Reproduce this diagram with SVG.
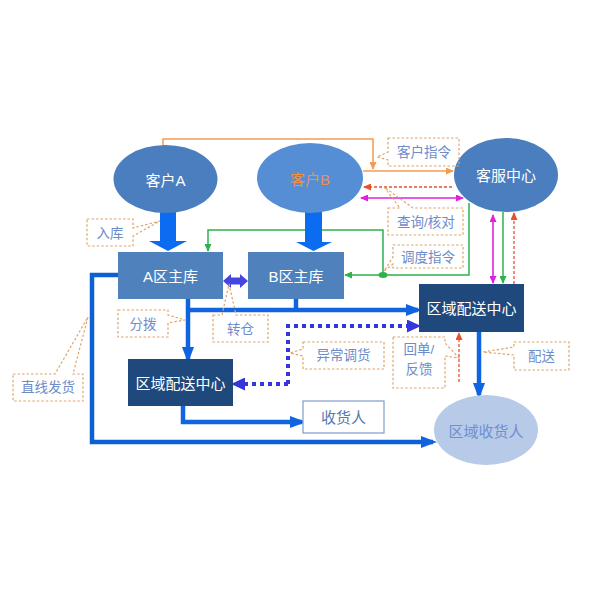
<svg xmlns="http://www.w3.org/2000/svg" width="595" height="595" viewBox="0 0 595 595">
<defs>
<style>
text{font-family:"Liberation Sans","Noto Sans CJK SC",sans-serif;text-anchor:middle;dominant-baseline:central}
.nt{font-size:15px;fill:#ffffff}
.ct{font-size:13.5px;fill:#6d8cc8}
.co{fill:none;stroke:#e0a56a;stroke-width:1.2;stroke-dasharray:2.5 2}
.blue{fill:none;stroke:#1064e0;stroke-width:4.5}
.dot{fill:none;stroke:#3535dc;stroke-width:4;stroke-dasharray:4 4}
.or{fill:none;stroke:#f59a4e;stroke-width:1.5}
.rd{fill:none;stroke:#e8502e;stroke-width:1.3;stroke-dasharray:3 2}
.mg{fill:none;stroke:#e020e0;stroke-width:1.6}
.gr{fill:none;stroke:#2db34a;stroke-width:1.5}
</style>
<marker id="aB" markerUnits="userSpaceOnUse" markerWidth="16" markerHeight="12" refX="12" refY="6" orient="auto"><path d="M0,0 L16,6 L0,12 z" fill="#1064e0"/></marker>
<marker id="aD" markerUnits="userSpaceOnUse" markerWidth="14" markerHeight="13" refX="10" refY="6.5" orient="auto"><path d="M0,0 L14,6.5 L0,13 z" fill="#3535dc"/></marker>
<marker id="aO" markerUnits="userSpaceOnUse" markerWidth="8" markerHeight="7" refX="7" refY="3.5" orient="auto"><path d="M0,0 L8,3.5 L0,7 z" fill="#f59a4e"/></marker>
<marker id="aR" markerUnits="userSpaceOnUse" markerWidth="8" markerHeight="7" refX="7" refY="3.5" orient="auto"><path d="M0,0 L8,3.5 L0,7 z" fill="#e8502e"/></marker>
<marker id="aM" markerUnits="userSpaceOnUse" markerWidth="8" markerHeight="7" refX="7" refY="3.5" orient="auto-start-reverse"><path d="M0,0 L8,3.5 L0,7 z" fill="#e020e0"/></marker>
<marker id="aG" markerUnits="userSpaceOnUse" markerWidth="8" markerHeight="7" refX="7" refY="3.5" orient="auto"><path d="M0,0 L8,3.5 L0,7 z" fill="#2db34a"/></marker>
</defs>
<rect width="595" height="595" fill="#ffffff"/>

<g id="connectors">
<path class="or" d="M163,146 V139 H373 V169" marker-end="url(#aO)"/>
<path class="or" d="M363,171 H453" marker-end="url(#aO)"/>
<path class="rd" d="M452,187 H364" marker-end="url(#aR)"/>
<path class="mg" d="M361,198 H463" marker-start="url(#aM)" marker-end="url(#aM)"/>
<path class="gr" d="M469,203 V275 H345" marker-end="url(#aG)"/>
<path class="gr" d="M383,275 V230 H208 V251" marker-end="url(#aG)"/>
<ellipse cx="383" cy="275" rx="4.5" ry="3" fill="#2db34a"/>
<path class="mg" d="M493,215 V283" marker-start="url(#aM)" marker-end="url(#aM)"/>
<path class="gr" d="M503,212 V283" marker-end="url(#aG)"/>
<path class="rd" d="M514,284 V213" marker-end="url(#aR)"/>
<path class="rd" d="M459,382 V333" marker-end="url(#aR)"/>
<polygon points="160,212 176,212 176,241 187,241 168,251 149,241 160,241" fill="#0b6cf2"/>
<polygon points="305,212 322,212 322,242 332,242 313.5,251 296,242 305,242" fill="#0b6cf2"/>
<polygon points="223,281 231,274 231,277.5 240,277.5 240,274 248,281 240,288 240,284.5 231,284.5 231,288" fill="#4545e2"/>
<path class="blue" d="M188,299 V359" marker-end="url(#aB)"/>
<path class="blue" d="M186,310 H418" marker-end="url(#aB)"/>
<path class="blue" d="M296,299 V310"/>
<path class="blue" d="M118,275 H92 V442 H433" marker-end="url(#aB)" style="stroke:#0c60d4"/>
<path class="blue" d="M183,406 V422 H302" marker-end="url(#aB)"/>
<path class="blue" d="M479,332 V395" marker-end="url(#aB)"/>
<path class="dot" d="M288,384 V326 H417" marker-end="url(#aD)"/>
<path class="dot" d="M288,384 H235" marker-end="url(#aD)"/>
</g>

<g id="node-kehuA"><ellipse cx="165.5" cy="179" rx="52" ry="34" fill="#4a7ebf"/><text class="nt" x="165.5" y="180">客户A</text></g>
<g id="node-kehuB"><ellipse cx="310" cy="178" rx="53" ry="35" fill="#558ed5"/><text class="nt" x="310" y="179" style="fill:#f0903e">客户B</text></g>
<g id="node-kefu"><ellipse cx="506" cy="175" rx="52" ry="37" fill="#4a7ebf"/><text class="nt" x="506" y="175">客服中心</text></g>
<g id="node-A"><rect x="118" y="252" width="105" height="47" fill="#4f81bd"/><text class="nt" x="170.5" y="276">A区主库</text></g>
<g id="node-B"><rect x="248" y="252" width="96" height="47" fill="#4f81bd"/><text class="nt" x="296" y="276">B区主库</text></g>
<g id="node-peisong-r"><rect x="419" y="284" width="105" height="48" fill="#1f497d"/><text class="nt" x="471.5" y="308">区域配送中心</text></g>
<g id="node-peisong-l"><rect x="128" y="359" width="105" height="47" fill="#1f497d"/><text class="nt" x="180.5" y="383">区域配送中心</text></g>
<g id="node-shouhuo"><rect x="303" y="401" width="81" height="32" fill="#ffffff" stroke="#7f9cc8" stroke-width="1.2"/><text class="nt" x="343.5" y="417" style="fill:#5a78b0">收货人</text></g>
<g id="node-quyu"><ellipse cx="486" cy="430" rx="52" ry="35" fill="#b7cae8"/><text class="nt" x="486" y="431" style="fill:#6f8fd0">区域收货人</text></g>

<g id="callouts">
<g id="c-ruku"><path class="co" d="M87,219 H133 V228 L160,221 L133,236 V246 H87 Z"/><text class="ct" x="110" y="233">入库</text></g>
<g id="c-zhiling"><path class="co" d="M388,138 H459 V166 H388 V160 L377,157 L388,152 Z"/><text class="ct" x="424" y="152">客户指令</text></g>
<g id="c-chaxun"><path class="co" d="M388,208 H400 L384,187 L413,208 H463 V235 H388 Z"/><text class="ct" x="426" y="222">查询/核对</text></g>
<g id="c-diaodu"><path class="co" d="M393,245 H463 V268 H393 V264 L384,271 L393,257 Z"/><text class="ct" x="428" y="257">调度指令</text></g>
<g id="c-fenbo"><path class="co" d="M118,310 H168 V315 L185,320 L168,323 V337 H118 Z"/><text class="ct" x="143" y="324">分拨</text></g>
<g id="c-zhuancang"><path class="co" d="M213,315 H222 L229,284 L236,315 H268 V342 H213 Z"/><text class="ct" x="240.5" y="329">转仓</text></g>
<g id="c-yichang"><path class="co" d="M303,342 H384 V369 H303 V356 L290,353 L303,349 Z"/><text class="ct" x="343.5" y="355">异常调货</text></g>
<g id="c-huidan"><path class="co" d="M393,337 H445 V343 L459,358 L445,356 V388 H393 Z"/><text class="ct" x="419" y="349">回单/</text><text class="ct" x="419" y="369">反馈</text></g>
<g id="c-peisong"><path class="co" d="M514,342 H569 V370 H514 V355 L483,352 L514,347 Z"/><text class="ct" x="541.5" y="356">配送</text></g>
<g id="c-zhixian"><path class="co" d="M13,374 H55 L88,317 L73,374 H83 V401 H13 Z"/><text class="ct" x="48" y="387.5">直线发货</text></g>
</g>
</svg>
